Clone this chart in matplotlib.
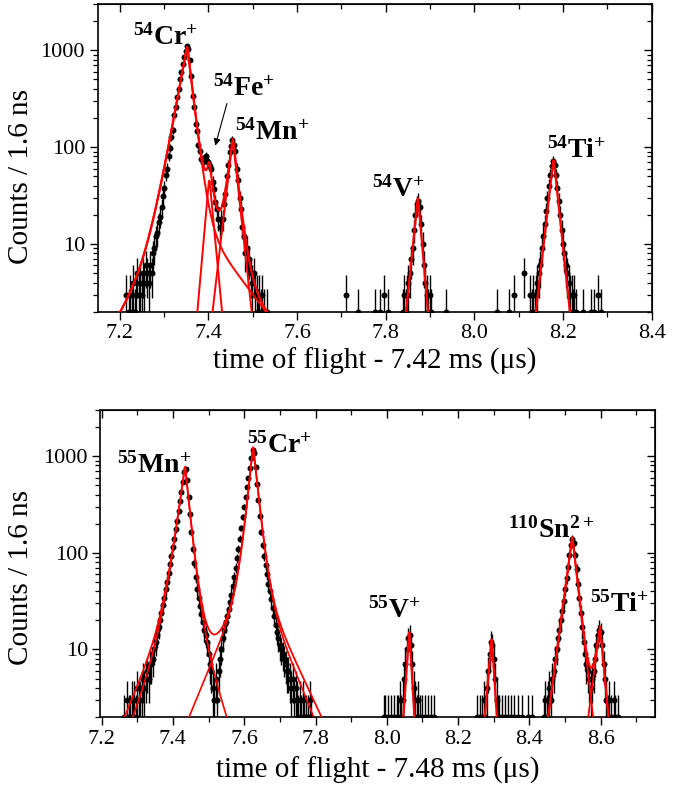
import numpy as np
import matplotlib
matplotlib.use("Agg")
import matplotlib.pyplot as plt
from matplotlib.ticker import MultipleLocator, FixedLocator, FuncFormatter, LogLocator, NullFormatter

plt.rcParams['font.family'] = ['Liberation Serif', 'DejaVu Serif']
plt.rcParams['mathtext.default'] = 'regular'

# ---------------- data: top panel (A = 54, offset 7.42 ms) ----------------
top_main_start = 7.2144
top_main_step = 0.0032
top_main_counts = [3, 1, 2, 3, 2, 4, 2, 3, 5, 3, 4, 3, 5, 4, 6, 5,
                   4, 6, 5, 8, 9, 12, 13, 17, 19, 24, 31, 38, 52, 60, 80, 98, 128, 150,
                   215, 260, 330, 400, 500, 590, 720, 850, 980, 1100, 1040,
                   800, 540, 340, 260, 175, 145, 105, 92, 76, 70, 77, 80, 72, 71, 64, 60, 44,
                   37, 27, 23, 18, 15, 18, 18, 26, 33, 50, 66, 90, 102, 118, 105, 92, 60, 46,
                   30, 23, 15, 12, 8, 9, 6, 7, 5, 4, 5, 3, 3, 2, 3, 2, 3, 2, 1, 2]
top_v_start = 7.8384
top_v_step = 0.0032
top_v_counts = [2, 3, 2, 3, 4, 5, 7, 9, 14, 20, 26, 28, 24, 16, 10, 6, 4, 3, 2, 3, 2]
top_ti_start = 8.1264
top_ti_step = 0.0032
top_ti_counts = [3, 2, 3, 2, 3, 4, 5, 6, 9, 12, 16, 22, 30, 40, 52, 64, 72, 66, 52, 38,
                 28, 20, 14, 10, 8, 6, 5, 4, 3, 3, 2, 3, 2]
top_iso_t = [7.711, 7.737, 7.775, 7.787, 7.796, 7.806, 7.937, 8.052, 8.079, 8.090, 8.113,
             8.245, 8.262, 8.270, 8.278, 8.285]
top_iso_counts = [3, 2, 2, 2, 3, 2, 2, 2, 2, 3, 5, 2, 2, 2, 3, 2]

# fit components: centre, amplitude, sigma, (tauL1, tauL2, wL), (tauR1, tauR2, wR)
top_names = ['54Cr', '54Fe', '54Mn', '54V', '54Ti']
top_centres = [7.352, 7.402, 7.455, 7.8726, 8.1786]
top_amps = [1080, 45, 115, 29.5, 73]
top_sigmas = [0.004, 0.004, 0.004, 0.003, 0.004]
top_left = [(0.017, 0.064, 0.018), (0.00835, 0.00835, 0.0), (0.0111, 0.0111, 0.0),
            (0.0097, 0.0097, 0.0), (0.01087, 0.01087, 0.0)]
top_right = [(0.011, 0.0718, 0.022), (0.009, 0.009, 0.0), (0.01036, 0.01036, 0.0),
             (0.0083, 0.0083, 0.0), (0.01004, 0.01004, 0.0)]

# ---------------- data: bottom panel (A = 55, offset 7.48 ms) ----------------
bot_main_start = 7.264
bot_main_step = 0.004
bot_main_counts = [2, 1, 3, 2, 2, 3, 2, 3, 2, 4, 3, 3, 4, 5, 4, 5, 6, 5, 7, 7, 8, 10, 12, 14,
                   17, 20, 24, 29, 34, 42, 50, 62, 76, 92, 115, 140, 175, 215, 270, 340, 430,
                   540, 690, 740, 560, 380, 250, 165, 110, 78, 56, 42, 34, 28, 23, 19, 16, 14,
                   12, 9, 7, 6, 4, 3, 5, 3, 6, 8, 10, 13, 16, 19, 22, 26, 31, 37, 45, 56, 70,
                   88, 110, 140, 180, 235, 300, 380, 480, 600, 760, 950, 1150, 1080, 780, 520,
                   350, 240, 165, 120, 92, 74, 60, 48, 40, 33, 27, 22, 18, 15, 13, 11, 10, 9,
                   8, 7, 6, 6, 5, 4, 5, 3, 4, 3, 2, 3, 2, 3, 2, 2, 1, 2, 3, 2]
bot_v_start = 7.992
bot_v_step = 0.004
bot_v_counts = [2, 2, 1, 2, 1, 2, 1, 2, 1, 2, 2, 3, 2, 3, 5, 7, 10, 13, 14, 11, 7, 4, 3, 2,
                3, 2, 1, 2, 1, 2, 1, 2, 1, 2, 1, 2]
bot_x_start = 8.252
bot_x_step = 0.004
bot_x_counts = [2, 1, 2, 1, 2, 3, 2, 4, 6, 9, 12, 11, 8, 5, 3, 2, 2, 1, 2, 1, 2, 1, 2, 1,
                2, 1, 2, 1, 1, 2, 1, 1, 2, 1, 1, 1, 2, 1, 1, 2]
bot_sn_start = 8.440
bot_sn_step = 0.004
bot_sn_counts = [2, 3, 2, 3, 4, 3, 5, 6, 8, 10, 13, 16, 20, 25, 32, 42, 55, 72, 95, 120, 140,
                 125, 95, 68, 48, 34, 24, 17, 12, 9, 7, 6, 5, 4, 5, 6, 8, 11, 14, 16, 15, 11,
                 7, 5, 3, 2, 3, 2, 1, 3, 2, 1, 2]

bot_names = ['55Mn', '55Cr', '55V', 'X', '110Sn', '55Ti']
bot_centres = [7.434, 7.625, 8.0628, 8.294, 8.520, 8.598]
bot_amps = [770, 1230, 15, 12.7, 144, 16.8]
bot_sigmas = [0.004, 0.004, 0.003, 0.003, 0.004, 0.003]
bot_left = [(0.0154, 0.050, 0.075), (0.0114, 0.0486, 0.065), (0.00787, 0.00787, 0.0),
            (0.0103, 0.0103, 0.0), (0.01567, 0.01567, 0.0), (0.0155, 0.0155, 0.0)]
bot_right = [(0.0115, 0.037, 0.06), (0.0119, 0.055, 0.053), (0.00694, 0.00694, 0.0),
             (0.0076, 0.0076, 0.0), (0.01356, 0.01356, 0.0), (0.0108, 0.0108, 0.0)]
# second fit variant (outer tails) for 55Mn and 55Cr
bot_alt_left = [(0.0154, 0.043, 0.075), (0.0114, 0.0486, 0.065)]
bot_alt_right = [(0.0115, 0.037, 0.06), (0.0119, 0.0477, 0.057)]


def shape(d, sigma, tau):
    dt = sigma ** 2 / tau
    ad = np.abs(d)
    return np.where(ad <= dt, np.exp(-d ** 2 / (2 * sigma ** 2)),
                    np.exp(dt ** 2 / (2 * sigma ** 2) - ad / tau))


def peak(t, c, A, sigma, left, right):
    d = t - c
    L = (1 - left[2]) * shape(d, sigma, left[0]) + left[2] * shape(d, sigma, left[1])
    R = (1 - right[2]) * shape(d, sigma, right[0]) + right[2] * shape(d, sigma, right[1])
    return A * np.where(d < 0, L, R)


def series(start, step, counts):
    n = np.array(counts, dtype=float)
    t = start + step * np.arange(len(n))
    return t, n


def draw_data(ax, t, n):
    n = np.asarray(n, dtype=float)
    err = np.sqrt(n)
    lower = np.minimum(err, n - 1e-3)
    ax.errorbar(t, n, yerr=[lower, err], fmt='o', color='black', ms=4.3, mew=0,
                elinewidth=1.0, capsize=3.6, capthick=1.0, zorder=2)


def style_axes(ax):
    ax.set_yscale('log')
    ax.set_ylim(2, 3000)
    ax.yaxis.set_major_locator(FixedLocator([10, 100, 1000]))
    ax.yaxis.set_minor_locator(LogLocator(base=10, subs=np.arange(2, 10), numticks=20))
    ax.yaxis.set_major_formatter(FuncFormatter(lambda v, p: '%d' % v))
    ax.yaxis.set_minor_formatter(NullFormatter())
    ax.xaxis.set_major_locator(MultipleLocator(0.2))
    ax.xaxis.set_minor_locator(MultipleLocator(0.1))
    ax.xaxis.set_major_formatter(FuncFormatter(lambda v, p: '%.1f' % v))
    ax.tick_params(axis='both', which='major', labelsize=16, length=6, width=1.0, pad=3)
    ax.tick_params(axis='both', which='minor', length=3.5, width=0.9)
    ax.tick_params(axis='both', which='both', direction='out', top=False, right=False)
    for s in ax.spines.values():
        s.set_linewidth(1.2)
    # mirrored inward ticks on top and right
    axt = ax.secondary_xaxis('top')
    axt.xaxis.set_major_locator(MultipleLocator(0.2))
    axt.xaxis.set_minor_locator(MultipleLocator(0.1))
    axt.tick_params(which='major', direction='in', length=6, width=1.0, labeltop=False)
    axt.tick_params(which='minor', direction='in', length=3.5, width=0.9)
    axr = ax.secondary_yaxis('right')
    axr.yaxis.set_major_locator(FixedLocator([10, 100, 1000]))
    axr.yaxis.set_minor_locator(LogLocator(base=10, subs=np.arange(2, 10), numticks=20))
    axr.yaxis.set_minor_formatter(NullFormatter())
    axr.tick_params(which='major', direction='in', length=6, width=1.0, labelright=False)
    axr.tick_params(which='minor', direction='in', length=3.5, width=0.9, labelright=False)


W, H = 691, 786
fig = plt.figure(figsize=(W / 100, H / 100), dpi=100)


def add_axes_px(l, r, t, b):
    return fig.add_axes([l / W, 1 - b / H, (r - l) / W, (b - t) / H])


ax1 = add_axes_px(97.5, 651.7, 4, 311.7)
ax2 = add_axes_px(100.5, 655.3, 410, 717)

# ---- top panel ----
for st, sp, cn in [(top_main_start, top_main_step, top_main_counts),
                   (top_v_start, top_v_step, top_v_counts),
                   (top_ti_start, top_ti_step, top_ti_counts)]:
    t, n = series(st, sp, cn)
    draw_data(ax1, t, n)
draw_data(ax1, np.array(top_iso_t), np.array(top_iso_counts))

red = '#ff0000'
tt = np.linspace(7.15, 7.60, 3000)
parts = [peak(tt, top_centres[i], top_amps[i], top_sigmas[i], top_left[i], top_right[i])
         for i in range(3)]
for p in parts:
    ax1.plot(tt, p, color=red, lw=1.4, zorder=3)
ax1.plot(tt, sum(parts), color=red, lw=1.6, zorder=3)
for i in (3, 4):
    tx = np.linspace(top_centres[i] - 0.06, top_centres[i] + 0.06, 800)
    ax1.plot(tx, peak(tx, top_centres[i], top_amps[i], top_sigmas[i], top_left[i], top_right[i]),
             color=red, lw=1.6, zorder=3)

style_axes(ax1)
ax1.set_xlim(7.15, 8.4)
ax1.set_ylabel('Counts / 1.6 ns', fontsize=21)
ax1.yaxis.set_label_coords(-0.115, 0.438)
ax1.set_xlabel('time of flight - 7.42 ms (\u03bcs)', fontsize=21)
ax1.xaxis.set_label_coords(0.5, -0.118)

ax1.annotate('', xy=(7.414, 97), xytext=(7.4435, 300),
             arrowprops=dict(arrowstyle='-|>', color='black', lw=0.8, mutation_scale=10))

# ---- bottom panel ----
for st, sp, cn in [(bot_main_start, bot_main_step, bot_main_counts),
                   (bot_v_start, bot_v_step, bot_v_counts),
                   (bot_x_start, bot_x_step, bot_x_counts),
                   (bot_sn_start, bot_sn_step, bot_sn_counts)]:
    t, n = series(st, sp, cn)
    draw_data(ax2, t, n)

tb = np.linspace(7.2, 7.85, 3000)
bparts = [peak(tb, bot_centres[i], bot_amps[i], bot_sigmas[i], bot_left[i], bot_right[i])
          for i in range(2)]
ax2.plot(tb, sum(bparts), color=red, lw=1.3, zorder=3)
for i in range(2):
    ax2.plot(tb, peak(tb, bot_centres[i], bot_amps[i], bot_sigmas[i],
                      bot_alt_left[i], bot_alt_right[i]), color=red, lw=1.2, zorder=3)
for i in (2, 3):
    tx = np.linspace(bot_centres[i] - 0.05, bot_centres[i] + 0.05, 800)
    ax2.plot(tx, peak(tx, bot_centres[i], bot_amps[i], bot_sigmas[i], bot_left[i], bot_right[i]),
             color=red, lw=1.6, zorder=3)
ts = np.linspace(8.40, 8.70, 2000)
sparts = [peak(ts, bot_centres[i], bot_amps[i], bot_sigmas[i], bot_left[i], bot_right[i])
          for i in (4, 5)]
for p in sparts:
    ax2.plot(ts, p, color=red, lw=1.3, zorder=3)
ax2.plot(ts, sum(sparts), color=red, lw=1.5, zorder=3)

style_axes(ax2)
ax2.set_xlim(7.197, 8.753)
ax2.set_ylabel('Counts / 1.6 ns', fontsize=21)
ax2.yaxis.set_label_coords(-0.12, 0.453)
ax2.set_xlabel('time of flight - 7.48 ms (\u03bcs)', fontsize=21)
ax2.xaxis.set_label_coords(0.5, -0.13)

# ---- peak labels ----
labels = [(r'$^{54}$Cr$^{+}$', 133, 45), (r'$^{54}$Fe$^{+}$', 213, 96),
          (r'$^{54}$Mn$^{+}$', 235, 140), (r'$^{54}$V$^{+}$', 372, 197),
          (r'$^{54}$Ti$^{+}$', 547, 158),
          (r'$^{55}$Mn$^{+}$', 117, 473), (r'$^{55}$Cr$^{+}$', 247, 453),
          (r'$^{55}$V$^{+}$', 368, 618), (r'$^{110}$Sn$^{2+}$', 508, 538),
          (r'$^{55}$Ti$^{+}$', 590, 612)]
for txt, x, y in labels:
    fig.text(x / W, 1 - y / H, txt, fontsize=20, fontweight='bold',
             family='Liberation Serif', ha='left', va='baseline')

fig.savefig('out.png', dpi=100)
